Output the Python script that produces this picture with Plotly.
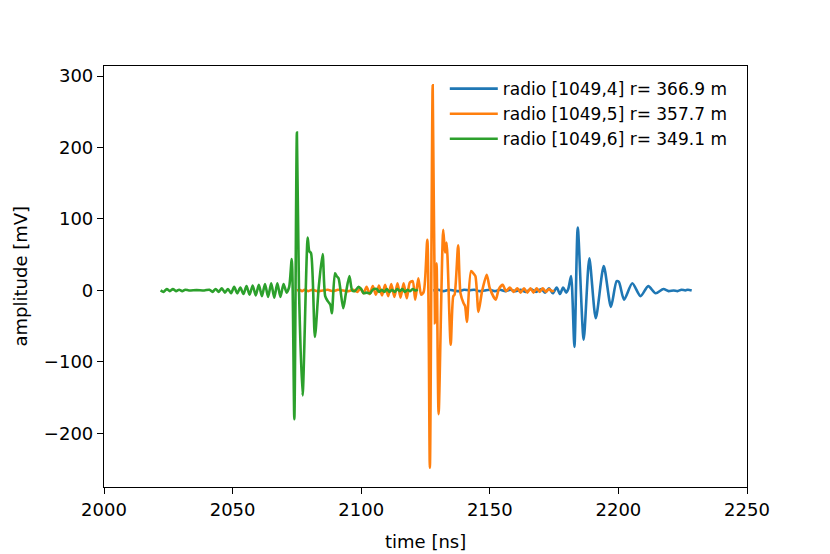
import plotly.graph_objects as go

# ---- data ----
names = ["radio [1049,4] r= 366.9 m", "radio [1049,5] r= 357.7 m", "radio [1049,6] r= 349.1 m"]
colors = ["#1f77b4", "#ff7f0e", "#2ca02c"]

t_blue = [2128, 2130, 2132, 2134, 2136, 2138, 2140, 2142, 2144, 2146, 2148, 2150, 2152, 2154,
          2156, 2158, 2160, 2162, 2164, 2166, 2168, 2170, 2171.5, 2173, 2174.5, 2176, 2177.3,
          2178.5, 2179.7, 2180.5, 2181.6, 2182.9, 2184.2, 2186.5, 2188.7, 2191.2, 2194.3,
          2197.1, 2199.3, 2200.2, 2202.2, 2205.4, 2208.6, 2211.6, 2214.5, 2217.5, 2219.5,
          2221.5, 2223, 2224.5, 2226, 2227, 2228.5]
v_blue = [0, 1, -1, 1, 0, -1, 1, 0, 1, -1, 0, 1, -1, 1,
          -1, 1, -1, 1, -2, 2, -2, 2, -3, 3, -4, 4, -5,
          4, -3, 2, 20, -79, 88, -69, 45, -39, 34,
          -23, 13, 12, -13, 10, -8, 6, -4, 2, -1,
          0, -1, 1, 0, 1, 0]

t_orange = [2075, 2076, 2077, 2078, 2079.5, 2081, 2083, 2085, 2087, 2089, 2091, 2093, 2095, 2097,
            2098.5, 2099.7, 2100.9, 2102.1, 2103.3, 2104.5, 2105.7, 2106.9, 2108.1, 2109.3,
            2110.5, 2111.7, 2112.9, 2114.1, 2115.3, 2116.5, 2117.7, 2118.9, 2120, 2121,
            2122.2, 2123.3, 2124.3, 2125.7, 2126.7, 2127.8, 2128.7, 2129.3, 2130.1, 2131.9,
            2132.6, 2133.2, 2134.8, 2135.8, 2136.3, 2137.7, 2138.6, 2139.8, 2140.4, 2141.1,
            2142.7, 2143.6, 2144.4, 2145.6, 2147, 2148.8, 2150, 2152.3, 2153.5, 2155,
            2156.3, 2157.8, 2159.3, 2160.7, 2162, 2163.3, 2164.6, 2165.8, 2167, 2168.2,
            2169.4, 2170.6, 2171.8, 2173, 2174.3, 2175]
v_orange = [0, 1, -1, 1, -1, 1, -1, 0, 1, -1, 1, 0, -1, 1,
            -2, 3, -4, 5, -5, 6, -6, 7, -7, 8,
            -8, 9, -9, 10, -10, 10, -11, 11, 13, -13,
            17, -6, -2, 71, -248, 287, -46, 38, -173, 85,
            53, 67, -76, -8, -6, 63, -4, -18, -22, -44,
            27, 24, 20, -30, -1, 22, 3, -13, 2, 8,
            -1, 4, -2, 3, -3, 3, -3, 3, -3, 3,
            -2, 3, -2, 2, -1, 0]

t_green = [2022, 2023.2, 2024.4, 2025.6, 2026.8, 2028, 2029.2, 2030.4, 2031.6, 2033, 2036, 2039,
           2041, 2042.2, 2043.4, 2044.6, 2045.8, 2047, 2048.2, 2049.4, 2050.6, 2051.8, 2053,
           2054.2, 2055.4, 2056.6, 2057.8, 2059, 2060.2, 2061.4, 2062.6, 2063.8, 2065, 2066.2,
           2067.4, 2068.6, 2069.8, 2071, 2072, 2073, 2074, 2075, 2075.8, 2077.2, 2079.2,
           2079.8, 2080.5, 2082, 2083.5, 2085, 2086, 2087, 2088, 2088.6, 2089.8, 2090.5,
           2091.2, 2093, 2094, 2095.4, 2096.5, 2097.5, 2099, 2100, 2101, 2102, 2103.5, 2104.5,
           2106, 2107, 2108, 2109, 2110, 2111, 2112, 2113, 2114, 2115, 2116, 2117, 2118,
           2119, 2120, 2121, 2122]
v_green = [0, -2, 2, -1, 2, -1, 1, -1, 1, 0, 0.5, 0,
           1, -2, 2, -2, 3, -3, 2, -4, 5, -4, 4,
           -5, 6, -6, 7, -7, 8, -8, 9, -9, 10, -10,
           10, -9, 9, -3, 5, 44, -180, 221, 3, -147, 74,
           55, 52, -65, 5, 51, -8, -15, -20, -32, 24, 20,
           17, -25, -5, 20, 0, -1, 5, 2, -4, -3, -4, 1,
           2, -2, 1, -2, 2, -2, 1, -2, 2, -1, 2, -2, 1,
           -1, 2, 0, 1]

x_ticks = [2000, 2050, 2100, 2150, 2200, 2250]
y_ticks = [-200, -100, 0, 100, 200, 300]
x_title = "time [ns]"
y_title = "amplitude [mV]"

series = [(t_blue, v_blue), (t_orange, v_orange), (t_green, v_green)]

fig = go.Figure()
for (t, v), name, c in zip(series, names, colors):
    fig.add_trace(go.Scatter(x=t, y=v, mode="lines", name=name,
                             line=dict(color=c, width=2.6, shape="spline", smoothing=0.7)))

font_family = "DejaVu Sans"
axis_common = dict(showline=True, linecolor="black", linewidth=1.2, mirror=True,
                   ticks="outside", ticklen=6, tickwidth=1.2, tickcolor="black",
                   showgrid=False, zeroline=False, automargin=False,
                   tickfont=dict(family=font_family, size=18, color="black"))

fig.update_xaxes(range=[2000, 2250], tickvals=x_ticks, **axis_common)
fig.update_yaxes(range=[-275, 314], tickvals=y_ticks, **axis_common)

title_font = dict(family=font_family, size=18, color="black")
fig.add_annotation(text=x_title, xref="paper", yref="paper", x=0.5, y=0,
                   xanchor="center", yanchor="middle", yshift=-54, showarrow=False,
                   font=title_font)
fig.add_annotation(text=y_title, xref="paper", yref="paper", x=0, y=0.5,
                   xanchor="center", yanchor="middle", xshift=-84, textangle=-90,
                   showarrow=False, font=title_font)

fig.update_layout(
    width=830, height=554,
    margin=dict(l=96, r=91, t=58, b=75),
    paper_bgcolor="white", plot_bgcolor="white",
    font=dict(family=font_family, color="black"),
    legend=dict(x=0.53, y=0.988, xanchor="left", yanchor="top",
                bgcolor="rgba(255,255,255,0.8)", borderwidth=0,
                font=dict(family=font_family, size=17, color="black"),
                tracegroupgap=0, itemwidth=48),
)

fig.write_html("out.html")
